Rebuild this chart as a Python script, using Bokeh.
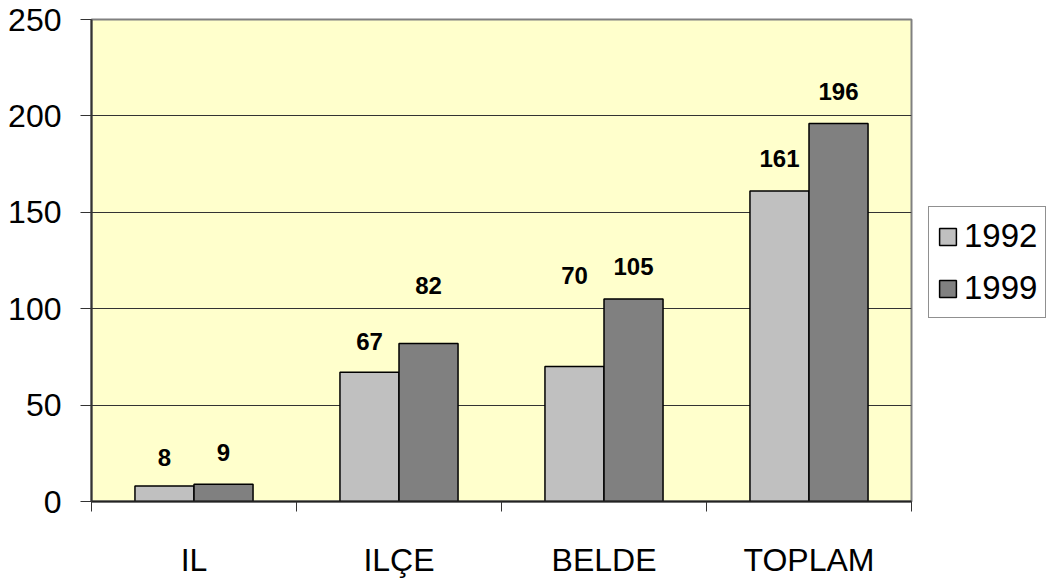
import numpy as np
from bokeh.plotting import figure
from bokeh.models import (ColumnDataSource, Range1d, FixedTicker, Legend, LegendItem)
from bokeh.core.properties import value
from bokeh.embed import file_html
from bokeh.resources import INLINE

# ---- data ----
categories = ["IL", "ILÇE", "BELDE", "TOPLAM"]
series_names = ["1992", "1999"]
v1992 = [8, 67, 70, 161]
v1999 = [9, 82, 105, 196]
# vertical position (in data units) at which each value label sits (as moved in the original)
label_y_1992 = [23, 83, 117, 178]
label_y_1999 = [25.5, 112, 122, 212.5]
y_ticks = [0, 50, 100, 150, 200, 250]

FONT = "Liberation Sans"
BAR_W = 0.288
n = len(categories)
centers = np.arange(n) + 0.5
x1992 = centers - BAR_W / 2
x1999 = centers + BAR_W / 2

src1992 = ColumnDataSource(dict(x=x1992, top=v1992, ly=label_y_1992,
                                txt=[str(v) for v in v1992]))
src1999 = ColumnDataSource(dict(x=x1999, top=v1999, ly=label_y_1999,
                                txt=[str(v) for v in v1999]))

p = figure(frame_width=820, frame_height=482, output_backend="svg",
           toolbar_location=None, x_range=Range1d(0, n), y_range=Range1d(0, 250),
           min_border_left=91, min_border_right=0, min_border_top=19,
           min_border_bottom=70)
p.background_fill_color = "#FFFFCC"
p.border_fill_color = "white"
p.outline_line_color = "#808080"
p.outline_line_width = 2

r1 = p.vbar(x="x", top="top", width=BAR_W, source=src1992,
            fill_color="#C0C0C0", line_color="black", line_width=1.5)
r2 = p.vbar(x="x", top="top", width=BAR_W, source=src1999,
            fill_color="#808080", line_color="black", line_width=1.5)

for s in (src1992, src1999):
    p.text(x="x", y="ly", text="txt", source=s, text_align="center",
           text_baseline="middle", text_font=value(FONT),
           text_font_style="bold", text_font_size="24px", text_color="black")

# grid
p.xgrid.grid_line_color = None
p.ygrid.ticker = FixedTicker(ticks=y_ticks)
p.ygrid.grid_line_color = "#333333"
p.ygrid.grid_line_width = 1

# y axis
ya = p.yaxis[0]
ya.ticker = FixedTicker(ticks=y_ticks)
ya.major_tick_out = 11
ya.major_tick_in = 0
ya.minor_tick_line_color = None
ya.axis_line_color = "#333333"
ya.axis_line_width = 2
ya.major_tick_line_color = "#333333"
ya.major_label_text_font = FONT
ya.major_label_text_font_size = "32px"
ya.major_label_standoff = 19
ya.major_label_text_color = "black"

# x axis: labels at category centres, tick marks at category boundaries
xa = p.xaxis[0]
xa.ticker = FixedTicker(ticks=list(centers), minor_ticks=list(range(n + 1)))
xa.major_label_overrides = {float(c): cat for c, cat in zip(centers, categories)}
xa.major_tick_line_color = None
xa.minor_tick_out = 10
xa.minor_tick_in = 0
xa.minor_tick_line_color = "#333333"
xa.axis_line_color = "#222222"
xa.axis_line_width = 2
xa.major_label_text_font = FONT
xa.major_label_text_font_size = "32px"
xa.major_label_standoff = 30
xa.major_label_text_color = "black"

legend = Legend(items=[LegendItem(label=series_names[0], renderers=[r1]),
                       LegendItem(label=series_names[1], renderers=[r2])],
                location=(17, 183))
legend.label_text_font = FONT
legend.label_text_font_size = "33px"
legend.label_text_color = "black"
legend.glyph_width = 21
legend.glyph_height = 21
legend.label_height = 42
legend.label_standoff = 6
legend.spacing = 10
legend.padding = 8
legend.margin = 0
legend.border_line_color = "#222222"
legend.border_line_width = 1
legend.background_fill_color = "white"
legend.background_fill_alpha = 1
p.add_layout(legend, "right")

open("out.html", "w").write(file_html(p, INLINE))
